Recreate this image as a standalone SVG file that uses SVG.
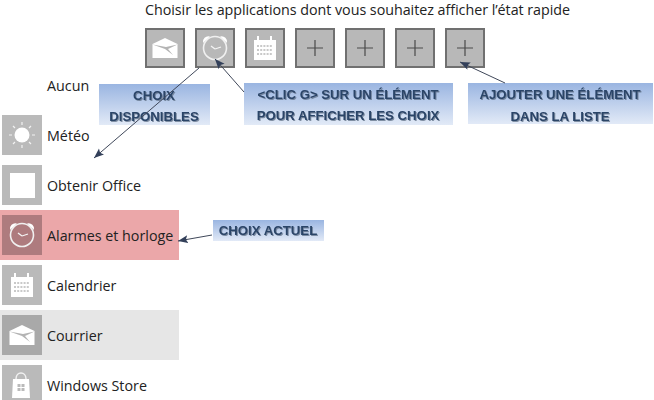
<svg xmlns="http://www.w3.org/2000/svg" width="654" height="400" viewBox="0 0 654 400">
<style>
text{font-family:"Open Sans","Noto Sans","Liberation Sans",sans-serif}
.t{font-size:14.3px;fill:#222}
.c{font-family:"Liberation Sans",Arial,sans-serif;font-size:13.2px;font-weight:bold;fill:#2a4468;text-anchor:middle;filter:url(#sh);letter-spacing:0}
.sq{fill:#b8b8b8;stroke:#707070;stroke-width:2}
.tile{fill:#bababa}
.plus{stroke:#4a4a4a;stroke-width:1.2;fill:none}
.w{fill:#fff;stroke:none}
.ws{fill:none;stroke:#f0f0f0;stroke-width:1.6}
.box{fill:url(#g)}
.a{stroke:#40485a;stroke-width:1;fill:none;marker-end:url(#m)}
</style>
<defs>
<linearGradient id="g" x1="0" y1="0" x2="0" y2="1"><stop offset="0" stop-color="#9ab5e1"/><stop offset="1" stop-color="#e2eaf7"/></linearGradient>
<filter id="sh" x="-10%" y="-30%" width="120%" height="170%"><feDropShadow dx="1" dy="1" stdDeviation=".6" flood-color="#5a6a80" flood-opacity=".7"/></filter>
<marker id="m" markerUnits="userSpaceOnUse" markerWidth="11" markerHeight="9" refX="10" refY="4" orient="auto"><path d="M0 0L10 4L0 8L2 4Z" fill="#33405a"/></marker>
<g id="mail"><path class="w" d="M-12.5-4L0-10L12.5-4L12.5 10L-12.5 10Z"/><path d="M-12.5-3.500L1-1L12.500-3.500L3 1L8 7L0 1Z" fill="#b4b4b4"/></g>
<g id="clock"><circle class="ws" cx="0" cy="0" r="11.500"/><path class="w" d="M-12-5A5.500 5.500 0 0 1-5-11.500L-8-9ZM12-5A5.500 5.500 0 0 0 5-11.500L8-9Z"/><path d="M0 1L-4-2M0 1L6-1" stroke="#f4f4f4" stroke-width="1.300" fill="none"/></g>
<g id="cal"><path class="w" d="M-11-8H-8V-12H-6V-8H5V-12H7V-8H11V12H-11Z"/><path d="M-8-2H8M-8 2H8M-8 6H8" stroke="#b8b8b8" stroke-width="1.500" stroke-dasharray="2 1.200" fill="none"/></g>
</defs>
<text class="t" x="145" y="15" textLength="425">Choisir les applications dont vous souhaitez afficher l’état rapide</text>
<g id="slot-mail"><rect class="sq" x="146" y="29" width="38" height="38"/><use href="#mail" x="165" y="48"/></g>
<g id="slot-clock"><rect class="sq" x="196" y="29" width="38" height="38"/><use href="#clock" x="215" y="48"/></g>
<g id="slot-cal"><rect class="sq" x="246" y="29" width="38" height="38"/><use href="#cal" x="265" y="48"/></g>
<g id="slot-add1"><rect class="sq" x="296" y="29" width="38" height="38"/><path class="plus" d="M307 48H323M315 40V56"/></g>
<g id="slot-add2"><rect class="sq" x="346" y="29" width="38" height="38"/><path class="plus" d="M357 48H373M365 40V56"/></g>
<g id="slot-add3"><rect class="sq" x="396" y="29" width="38" height="38"/><path class="plus" d="M407 48H423M415 40V56"/></g>
<g id="slot-add4"><rect class="sq" x="446" y="29" width="38" height="38"/><path class="plus" d="M457 48H473M465 40V56"/></g>
<g id="item-aucun"><text class="t" x="47" y="91">Aucun</text></g>
<g id="item-meteo"><rect class="tile" x="2" y="115" width="40" height="40"/><circle class="w" cx="22" cy="135" r="7.500"/><path d="M22 122V125M22 145V148M9 135H12M32 135H35M13 126L15 128M29 142L31 144M31 126L29 128M15 142L13 144" stroke="#f2f2f2" stroke-width="1.200"/><text class="t" x="47" y="141">Météo</text></g>
<g id="item-office"><rect class="tile" x="2" y="165" width="40" height="40"/><rect class="w" x="10" y="173" width="25" height="25"/><text class="t" x="47" y="191">Obtenir Office</text></g>
<g id="item-alarmes"><rect x="0" y="210" width="179" height="50" fill="#eba7a9"/><rect x="2" y="215" width="40" height="40" fill="#ae7b7e"/><use href="#clock" x="22" y="235"/><text class="t" x="47" y="241">Alarmes et horloge</text></g>
<g id="item-calendrier"><rect class="tile" x="2" y="265" width="40" height="40"/><use href="#cal" x="22" y="285"/><text class="t" x="47" y="291">Calendrier</text></g>
<g id="item-courrier"><rect x="0" y="310" width="179" height="50" fill="#e6e6e6"/><rect x="2" y="315" width="40" height="40" fill="#a9a9a9"/><use href="#mail" x="22" y="335"/><text class="t" x="47" y="341">Courrier</text></g>
<g id="item-store"><rect class="tile" x="2" y="365" width="40" height="35"/><path class="w" d="M13 379H29L30 398H12Z"/><path d="M16 379C16 371 26 371 26 379" fill="none" stroke="#f2f2f2" stroke-width="1.500"/><path d="M17.500 384h3v3h-3zM21.500 384h3v3h-3zM17.500 388h3v3h-3zM21.500 388h3v3h-3z" fill="#bababa"/><text class="t" x="47" y="391">Windows Store</text></g>
<g id="note-disponibles"><rect class="box" x="99" y="84" width="111" height="41"/><text class="c" x="154" y="100">CHOIX</text><text class="c" x="154" y="121">DISPONIBLES</text></g>
<g id="note-clic"><rect class="box" x="244" y="83" width="209" height="42"/><text class="c" x="348" y="99">&lt;CLIC G&gt; SUR UN ÉLÉMENT</text><text class="c" x="348" y="120">POUR AFFICHER LES CHOIX</text></g>
<g id="note-ajouter"><rect class="box" x="468" y="83" width="185" height="41"/><text class="c" x="560" y="99">AJOUTER UNE ÉLÉMENT</text><text class="c" x="560" y="121">DANS LA LISTE</text></g>
<g id="note-actuel"><rect class="box" x="213" y="220" width="111" height="21"/><text class="c" x="268" y="235">CHOIX ACTUEL</text></g>
<g id="connectors">
<path class="a" d="M199 68L94 158"/>
<path class="a" d="M244 92L215 59"/>
<path class="a" d="M505 83L460 62"/>
<path class="a" d="M212 235L178 241"/>
</g>
</svg>
